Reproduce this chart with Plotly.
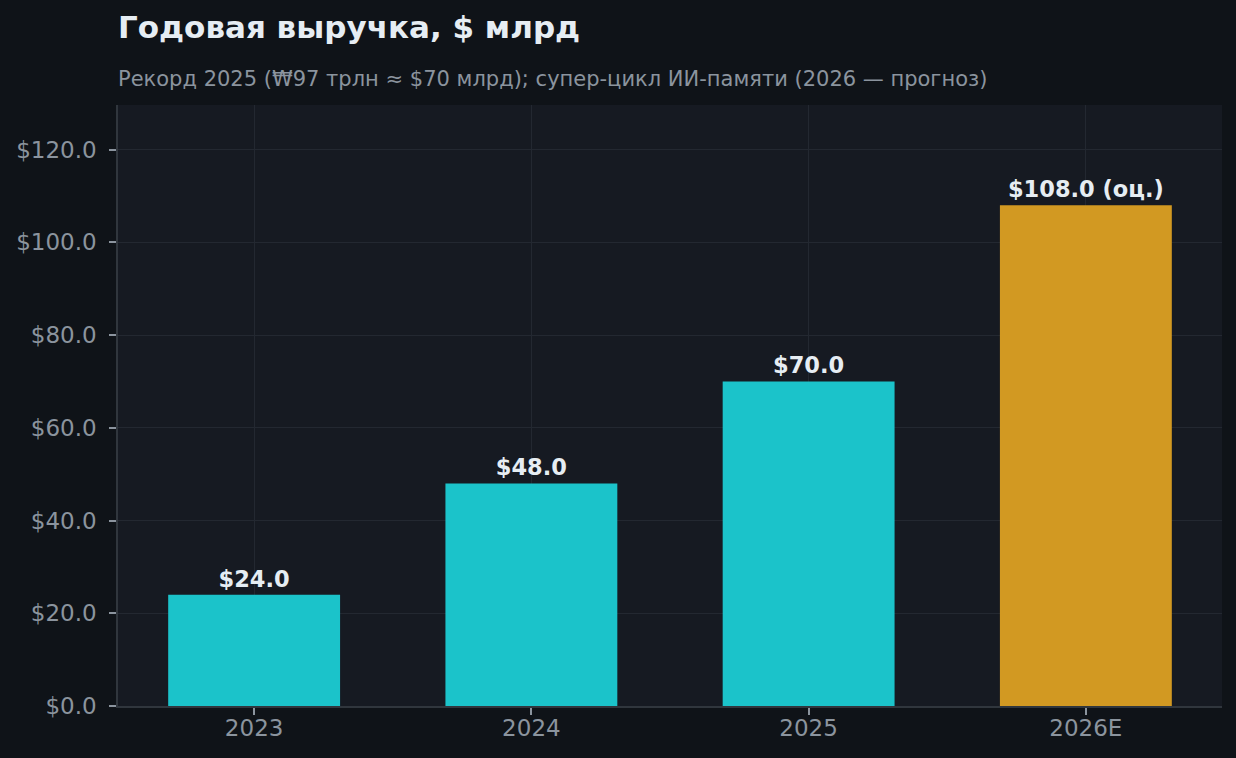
import plotly.graph_objects as go

categories = ["2023", "2024", "2025", "2026E"]
revenue = [24.0, 48.0, 70.0, 108.0]
bar_colors = ["#1bc3ca", "#1bc3ca", "#1bc3ca", "#d29922"]
labels = ["$24.0", "$48.0", "$70.0", "$108.0 (оц.)"]
y_ticks = [0, 20, 40, 60, 80, 100, 120]
y_tick_text = ["$0.0", "$20.0", "$40.0", "$60.0", "$80.0", "$100.0", "$120.0"]

title = "Годовая выручка, $ млрд"
subtitle = "Рекорд 2025 (₩97 трлн ≈ $70 млрд); супер-цикл ИИ-памяти (2026 — прогноз)"

FONT = "DejaVu Sans"

fig = go.Figure()
fig.add_trace(go.Bar(
    x=categories,
    y=revenue,
    marker=dict(color=bar_colors, line=dict(width=0)),
    width=0.62,
    text=labels,
    textposition="outside",
    cliponaxis=False,
    textfont=dict(family=FONT, size=22.5, color="#e6edf3", weight="bold"),
    hoverinfo="skip",
))

fig.update_layout(
    width=1236, height=758,
    margin=dict(l=118, r=14, t=105, b=52),
    paper_bgcolor="#0f1318",
    plot_bgcolor="#161a22",
    showlegend=False,
    font=dict(family=FONT, color="#8b949e"),
    annotations=[
        dict(text="<b>" + title + "</b>", xref="paper", yref="paper", x=0, y=1,
             xanchor="left", yanchor="bottom", yshift=58, xshift=-2, showarrow=False,
             font=dict(family=FONT, size=31, color="#e6edf3")),
        dict(text=subtitle, xref="paper", yref="paper", x=0, y=1,
             xanchor="left", yanchor="bottom", yshift=12, xshift=-2, showarrow=False,
             font=dict(family=FONT, size=21, color="#8b949e")),
    ],
)

fig.update_xaxes(
    type="category",
    range=[-0.491, 3.491],
    showgrid=True, gridcolor="#232831", gridwidth=1,
    showline=True, linecolor="#30363d", linewidth=1.5,
    ticks="outside", ticklen=7, tickcolor="#8b949e", tickwidth=1.5,
    tickfont=dict(family=FONT, size=23, color="#8b949e"),
    ticklabelstandoff=-6,
    zeroline=False,
)
fig.update_yaxes(
    range=[0, 129.6],
    tickvals=y_ticks, ticktext=y_tick_text,
    showgrid=True, gridcolor="#232831", gridwidth=1,
    showline=True, linecolor="#30363d", linewidth=1.5,
    ticks="outside", ticklen=7, tickcolor="#8b949e", tickwidth=1.5,
    tickfont=dict(family=FONT, size=23, color="#8b949e"),
    ticklabelstandoff=8,
    zeroline=False,
)

fig.write_html(
    "out.html",
    config={"displayModeBar": False},
    post_script="document.body.style.margin='0';document.body.style.background='#0f1318';",
)
